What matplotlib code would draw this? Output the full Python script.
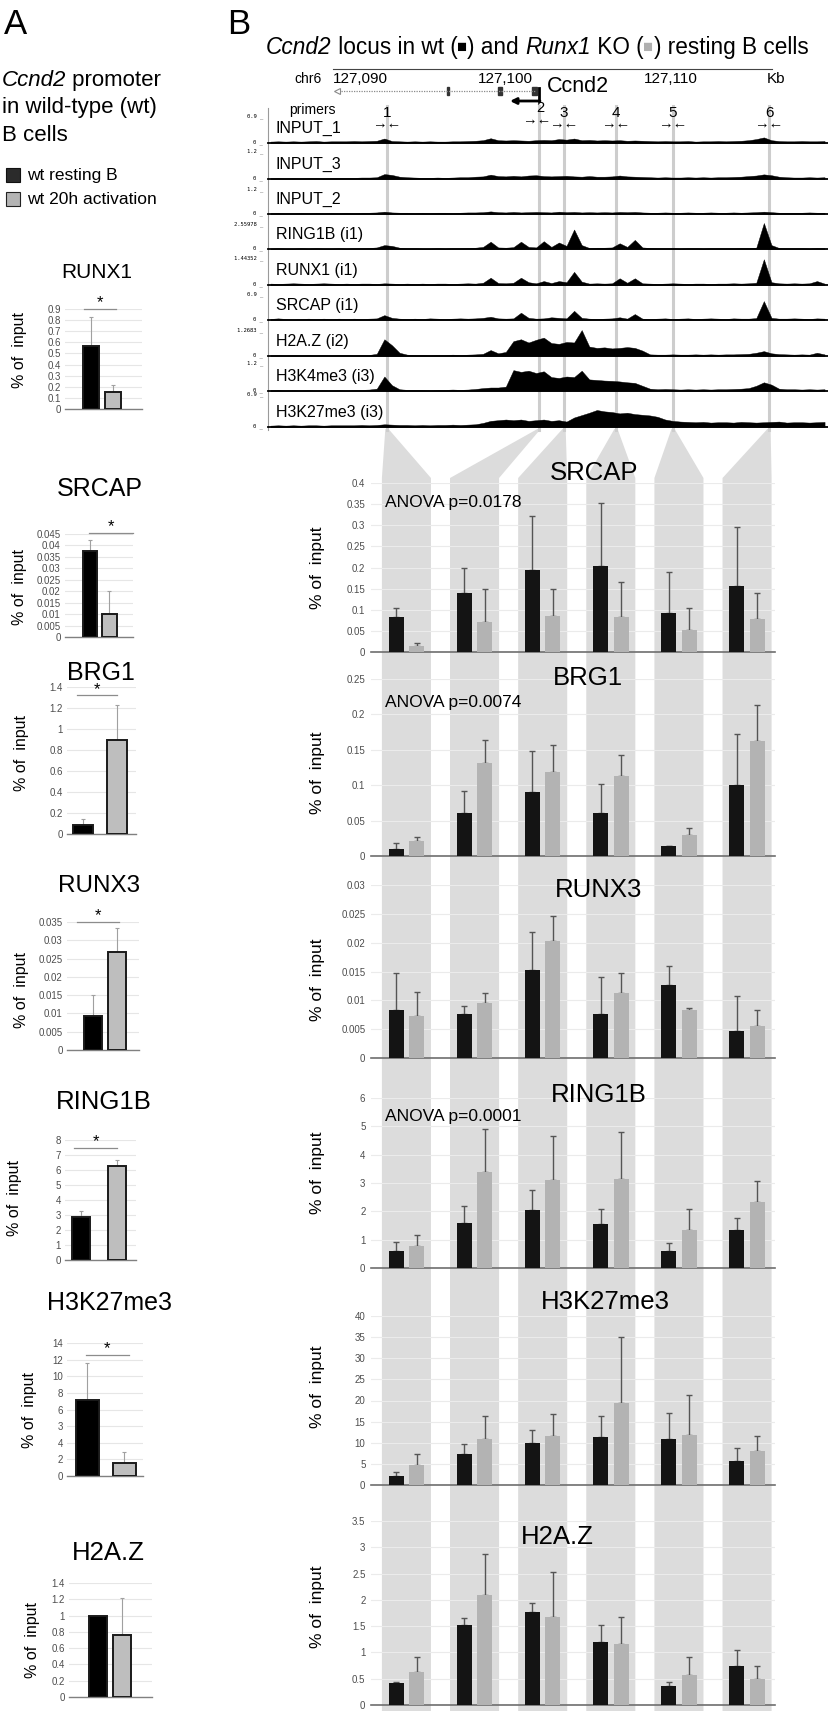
import numpy as np
import matplotlib
matplotlib.use('Agg')
import matplotlib.pyplot as plt
from matplotlib.patches import Rectangle, Polygon

plt.rcParams['font.family'] = ['Liberation Sans', 'DejaVu Sans']

W, H = 829, 1711

# ---------------- panel A data (wt resting vs wt 20h activation) ----------------
a_targets = ['RUNX1', 'SRCAP', 'BRG1', 'RUNX3', 'RING1B', 'H3K27me3', 'H2A.Z']
a_resting = [0.565, 0.0375, 0.09, 0.0092, 2.9, 9.1, 1.0]
a_resting_top = [0.83, 0.0425, 0.14, 0.015, 3.3, 13.55, 1.0]
a_act = [0.155, 0.010, 0.90, 0.0267, 6.25, 1.6, 0.76]
a_act_top = [0.22, 0.020, 1.23, 0.0333, 6.7, 2.94, 1.22]
a_sig = [0.9, 0.0455, 1.32, 0.035, 7.5, 14.6, None]
a_ymax = [0.9, 0.045, 1.4, 0.035, 8, 16, 1.4]
a_ystep = [0.1, 0.005, 0.2, 0.005, 1, 2, 0.2]
h3k27_a_ticklabels = ['0', '2', '4', '3', '6', '8', '10', '12', '14']

# ---------------- panel B data (wt vs Runx1 KO, primers 1-6) ----------------
primers = ['1', '2', '3', '4', '5', '6']
b_targets = ['SRCAP', 'BRG1', 'RUNX3', 'RING1B', 'H3K27me3', 'H2A.Z']
srcap_wt = [0.082, 0.139, 0.193, 0.204, 0.092, 0.156]
srcap_wt_top = [0.103, 0.198, 0.323, 0.352, 0.189, 0.296]
srcap_ko = [0.0135, 0.071, 0.086, 0.082, 0.052, 0.079]
srcap_ko_top = [0.021, 0.149, 0.149, 0.165, 0.103, 0.140]
brg1_wt = [0.0098, 0.061, 0.090, 0.061, 0.014, 0.100]
brg1_wt_top = [0.0187, 0.0925, 0.148, 0.102, 0.0145, 0.172]
brg1_ko = [0.021, 0.131, 0.118, 0.1135, 0.0296, 0.163]
brg1_ko_top = [0.027, 0.164, 0.157, 0.142, 0.040, 0.213]
runx3_wt = [0.0084, 0.0076, 0.0153, 0.0076, 0.0126, 0.0047]
runx3_wt_top = [0.0148, 0.0090, 0.0218, 0.0141, 0.0159, 0.0108]
runx3_ko = [0.0072, 0.0096, 0.0203, 0.0112, 0.0083, 0.0056]
runx3_ko_top = [0.0114, 0.0112, 0.0247, 0.0148, 0.0087, 0.0083]
ring1b_wt = [0.59, 1.59, 2.06, 1.56, 0.59, 1.33]
ring1b_wt_top = [0.91, 2.18, 2.74, 2.08, 0.88, 1.76]
ring1b_ko = [0.79, 3.38, 3.09, 3.15, 1.33, 2.32]
ring1b_ko_top = [1.16, 4.90, 4.65, 4.80, 2.08, 3.08]
h3k27_wt = [2.2, 7.3, 9.9, 11.4, 11.0, 5.6]
h3k27_wt_top = [3.1, 9.8, 13.1, 16.4, 17.0, 8.7]
h3k27_ko = [4.7, 11.0, 11.6, 19.4, 11.9, 8.0]
h3k27_ko_top = [7.3, 16.4, 16.7, 35.0, 21.2, 11.6]
h2az_wt = [0.41, 1.53, 1.77, 1.19, 0.36, 0.75]
h2az_wt_top = [0.43, 1.66, 1.94, 1.53, 0.44, 1.04]
h2az_ko = [0.63, 2.09, 1.68, 1.16, 0.58, 0.49]
h2az_ko_top = [0.92, 2.87, 2.53, 1.67, 0.92, 0.74]
b_ymax = [0.4, 0.25, 0.03, 6, 40, 3.5]
b_ystep = [0.05, 0.05, 0.005, 1, 5, 0.5]
anova = ['ANOVA p=0.0178', 'ANOVA p=0.0074', None, 'ANOVA p=0.0001', None, None]

# ---------------- genome browser tracks (0.5 kb bins, fraction of track scale) ----------------
track_names = ['INPUT_1', 'INPUT_3', 'INPUT_2', 'RING1B (i1)', 'RUNX1 (i1)', 'SRCAP (i1)',
               'H2A.Z (i2)', 'H3K4me3 (i3)', 'H3K27me3 (i3)']
track_scale = ['0.9', '1.2', '1.2', '2.55978', '1.44352', '0.9', '1.2683', '1.2', '0.9']
kb = 84.0 + 0.5 * np.arange(74)
input_1 = [.05,.06,.05,.06,.05,.06,.07,.05,.06,.06, .06,.07,.06,.07,.08,.16,.07,.06,.05,.06,
           .05,.06,.05,.05,.06,.06,.07,.08,.10,.17, .10,.09,.10,.09,.08,.10,.11,.10,.14,.12,
           .16,.10,.11,.09,.10,.09,.10,.08,.09,.08, .07,.06,.07,.06,.06,.07,.05,.06,.06,.07,
           .06,.07,.08,.10,.14,.20,.10,.07,.06,.06, .07,.06,.06,.07]
input_3 = [.03,.04,.03,.04,.03,.04,.04,.03,.04,.04, .04,.04,.05,.05,.06,.17,.14,.08,.06,.05,
           .04,.04,.05,.04,.05,.06,.06,.08,.09,.15, .10,.09,.11,.09,.12,.13,.10,.09,.10,.11,
           .09,.08,.10,.08,.08,.09,.12,.09,.08,.07, .06,.05,.06,.05,.05,.06,.05,.06,.05,.06,
           .06,.07,.08,.10,.12,.16,.13,.08,.06,.05, .05,.06,.05,.06]
input_2 = [.04,.05,.04,.04,.05,.04,.05,.04,.05,.04, .05,.04,.05,.05,.06,.09,.06,.05,.05,.04,
           .05,.04,.05,.05,.04,.05,.06,.06,.07,.10, .07,.06,.08,.06,.07,.08,.07,.06,.09,.07,
           .08,.06,.07,.06,.07,.06,.08,.07,.08,.06, .05,.05,.06,.05,.05,.06,.05,.05,.06,.05,
           .05,.06,.05,.06,.07,.09,.07,.05,.05,.05, .05,.06,.05,.05]
ring1b_chip = [.02,.03,.02,.02,.03,.02,.03,.02,.02,.03, .02,.03,.03,.04,.06,.15,.12,.05,.03,.03,
               .02,.02,.03,.02,.03,.03,.04,.05,.08,.28, .06,.05,.07,.28,.08,.06,.30,.08,.25,.12,
               .75,.15,.04,.05,.05,.06,.22,.08,.35,.06, .04,.03,.03,.03,.02,.03,.03,.02,.03,.03,
               .03,.03,.04,.04,.05,1.0,.15,.04,.03,.03, .03,.02,.04,.03]
runx1_chip = [.05,.04,.05,.06,.05,.04,.05,.06,.05,.04, .05,.04,.05,.05,.04,.06,.05,.04,.05,.04,
              .05,.04,.05,.05,.04,.05,.06,.05,.08,.26, .07,.06,.08,.26,.10,.06,.14,.07,.14,.10,
              .47,.12,.05,.06,.05,.06,.24,.08,.24,.06, .05,.04,.05,.06,.05,.04,.05,.05,.04,.05,
              .05,.06,.05,.06,.08,.92,.10,.06,.05,.06, .05,.06,.14,.05]
srcap_chip = [.04,.06,.04,.03,.04,.05,.04,.05,.04,.05, .04,.05,.04,.05,.06,.18,.08,.05,.04,.05,
              .04,.06,.05,.04,.05,.06,.05,.06,.08,.12, .06,.05,.06,.27,.08,.05,.06,.10,.08,.06,
              .34,.08,.05,.04,.05,.06,.10,.05,.22,.05, .04,.05,.06,.04,.05,.06,.04,.05,.06,.05,
              .04,.06,.05,.05,.07,.70,.08,.05,.05,.06, .05,.04,.06,.05]
h2az_chip = [.03,.04,.03,.04,.03,.04,.03,.04,.03,.04, .04,.03,.04,.04,.08,.62,.40,.12,.05,.04,
             .04,.03,.04,.04,.05,.04,.05,.06,.08,.22, .10,.15,.55,.62,.50,.60,.68,.48,.45,.52,
             .50,.96,.35,.30,.32,.28,.30,.33,.30,.20, .06,.05,.05,.06,.05,.05,.06,.05,.06,.05,
             .06,.06,.07,.08,.12,.18,.10,.07,.06,.05, .06,.05,.12,.06]
h3k4me3_chip = [.03,.04,.03,.04,.03,.04,.03,.04,.03,.04, .03,.04,.04,.05,.08,.50,.20,.06,.04,.04,
                .04,.03,.04,.04,.05,.04,.05,.07,.10,.12, .12,.15,.72,.66,.70,.62,.68,.48,.45,.50,
                .48,.70,.40,.38,.36,.35,.33,.30,.28,.18, .08,.06,.07,.06,.05,.06,.05,.06,.05,.06,
                .06,.07,.08,.10,.18,.30,.22,.08,.06,.06, .05,.06,.05,.06]
h3k27me3_chip = [.04,.05,.04,.05,.04,.05,.05,.04,.05,.05, .05,.05,.06,.05,.06,.08,.07,.06,.06,.05,
                 .06,.05,.06,.06,.07,.06,.07,.08,.12,.18, .20,.22,.20,.22,.18,.20,.22,.18,.20,.16,
                 .28,.35,.42,.50,.46,.44,.40,.42,.38,.36, .34,.30,.22,.18,.16,.15,.14,.15,.13,.14,
                 .14,.13,.15,.14,.13,.14,.15,.16,.13,.14, .14,.13,.14,.15]
tracks = [input_1, input_3, input_2, ring1b_chip, runx1_chip, srcap_chip, h2az_chip, h3k4me3_chip, h3k27me3_chip]
primer_kb = [91.67, 101.69, 103.34, 106.76, 110.52, 116.84]

# ---------------- figure ----------------
fig = plt.figure(figsize=(W / 100, H / 100), dpi=100)
bg = fig.add_axes([0, 0, 1, 1], zorder=0)
fg = fig.add_axes([0, 0, 1, 1], zorder=5)
for a in (bg, fg):
    a.set_xlim(0, W)
    a.set_ylim(H, 0)
    a.axis('off')
fg.patch.set_alpha(0)


def box(x0, y0, x1, y1):
    return [x0 / W, 1 - y1 / H, (x1 - x0) / W, (y1 - y0) / H]


def rainbow(x, y, pieces, size):
    # pieces after the first carry their own size; chained by bbox centre
    t = fg.text(x, y, pieces[0][0], color=pieces[0][1], style=pieces[0][2],
                fontsize=size, ha='left', va='center')
    for s, c, st, sz in pieces[1:]:
        t = fg.annotate(s, xy=(1, 0.5), xycoords=t, va='center', ha='left',
                        color=c, style=st, fontsize=sz)


# ===== panel A =====
fg.text(16, 24, 'A', fontsize=25, ha='center', va='center')
rainbow(2, 80, [('Ccnd2', 'black', 'italic'), (' promoter', 'black', 'normal', 16)], 16)
fg.text(2, 107, 'in wild-type (wt)', fontsize=16, ha='left', va='center')
fg.text(2, 135, 'B cells', fontsize=16, ha='left', va='center')
bg.add_patch(Rectangle((6, 168), 14, 14, facecolor='#2b2b2b', edgecolor='#111111', lw=0.8))
bg.add_patch(Rectangle((6, 192), 14, 14, facecolor='#b4b4b4', edgecolor='#222222', lw=0.8))
fg.text(27, 175, 'wt resting B', fontsize=12.5, ha='left', va='center')
fg.text(27, 199, 'wt 20h activation', fontsize=12.5, ha='left', va='center')

a_box = [(65, 309, 142, 409), (65, 534, 133, 637), (67, 687, 136, 834), (67, 922, 139, 1050),
         (65, 1140, 136, 1260), (67, 1343, 143, 1476), (69, 1583, 152, 1697)]
a_barpx = [(91.5, 113), (90, 109.5), (83, 117), (93, 117), (81, 117), (87.5, 124.5), (98, 122)]
a_barw = [16, 14.5, 20, 18, 18, 23, 18]
a_title_xy = [(97, 272), (100, 489), (101, 673), (99, 886), (104, 1102), (110, 1303), (108, 1553)]
a_title_size = [15, 18, 18, 17.5, 18.5, 18, 18.5]
a_ylab_xy = [(20, 350), (20, 587), (22, 753), (22, 990), (15, 1198), (30, 1410), (33, 1640)]
a_sig_span = [(-0.35, 1.14), (-0.05, 2.2), (-0.18, 1.0), (-0.67, 1.08), (-0.19, 1.0), (-0.04, 1.12), None]

for k, name in enumerate(a_targets):
    x0, y0, x1, y1 = a_box[k]
    ax = fig.add_axes(box(x0, y0, x1, y1), zorder=2)
    ax.patch.set_alpha(0)
    bc, gc = a_barpx[k]
    u = gc - bc
    ax.set_xlim(-(bc - x0) / u, 1 + (x1 - gc) / u)
    ax.set_ylim(0, a_ymax[k])
    ticks = np.round(np.arange(0, a_ymax[k] + a_ystep[k] / 2, a_ystep[k]), 6)
    ax.set_yticks(ticks)
    if name == 'H3K27me3':
        ax.set_yticklabels(h3k27_a_ticklabels)
    else:
        ax.set_yticklabels([f'{t:g}' for t in ticks])
    ax.tick_params(axis='y', length=0, labelsize=7, colors='#4d4d4d', pad=3)
    ax.set_xticks([])
    ax.grid(axis='y', color='#e6e6e6', lw=0.8)
    ax.set_axisbelow(True)
    for s in ['top', 'right', 'left']:
        ax.spines[s].set_visible(False)
    ax.spines['bottom'].set_color('#808080')
    ax.spines['bottom'].set_linewidth(1.0)
    w = a_barw[k] / u
    ax.bar([0, 1], [a_resting[k], a_act[k]], width=w, color=['black', '#bebebe'],
           edgecolor='#1a1a1a', linewidth=1.4, zorder=3)
    for xi, v, top in [(0, a_resting[k], a_resting_top[k]), (1, a_act[k], a_act_top[k])]:
        if top > v:
            ax.errorbar(xi, v, yerr=[[0], [top - v]], fmt='none', ecolor='#a0a0a0',
                        elinewidth=0.8, capsize=1.5, capthick=0.8, zorder=2)
    if a_sig[k] is not None:
        sx = a_sig_span[k]
        ax.plot(sx, [a_sig[k], a_sig[k]], color='#8c8c8c', lw=0.9, clip_on=False)
        ax.annotate('*', xy=(np.mean(sx), a_sig[k]), xytext=(0, -1), textcoords='offset points',
                    ha='center', va='bottom', fontsize=12, annotation_clip=False)
    fg.text(*a_title_xy[k], name, fontsize=a_title_size[k], ha='center', va='center')
    fg.text(*a_ylab_xy[k], '% of  input', fontsize=11.5, rotation=90, ha='center', va='center')

# ===== panel B header =====
fg.text(239, 24, 'B', fontsize=25, ha='center', va='center')
rainbow(266, 47, [('Ccnd2', 'black', 'italic'), (' locus in wt (', 'black', 'normal', 16.3),
                  ('■', 'black', 'normal', 12), (') and ', 'black', 'normal', 16.3),
                  ('Runx1', 'black', 'italic', 16.3), (' KO (', 'black', 'normal', 16.3),
                  ('■', '#b0b0b0', 'normal', 12), (') resting B cells', 'black', 'normal', 16.3)], 16.3)

trk_x0, trk_x1 = 268, 829
kb_lo, kb_hi = 84 - 2.5 / 15.18, 84 + (trk_x1 - 270.5) / 15.18


def kb2px(v):
    return trk_x0 + (v - kb_lo) / (kb_hi - kb_lo) * (trk_x1 - trk_x0)


bg.plot([333, 772], [69, 69], color='#444444', lw=0.8)
fg.text(308, 79, 'chr6', fontsize=10, ha='center', va='center')
for lab, xl in [('127,090', 333), ('127,100', 478), ('127,110', 644), ('Kb', 767)]:
    fg.text(xl, 79, lab, fontsize=11, ha='left', va='center')
bg.plot([336, 536], [91, 91], color='#8a8a8a', lw=0.9, ls=(0, (1, 1)))
bg.plot(337, 91, marker='<', ms=4, mfc='white', mec='#8a8a8a', mew=0.8)
for ex0, exw in [(447, 2.5), (498, 4), (532.5, 5)]:
    bg.add_patch(Rectangle((ex0, 87), exw, 8, color='#333333'))
bg.plot([539, 539], [88, 101], color='black', lw=2)
bg.annotate('', xy=(510, 101), xytext=(540, 101),
            arrowprops=dict(arrowstyle='-|>', color='black', lw=2, mutation_scale=9, shrinkA=0, shrinkB=0))
fg.text(547, 86, 'Ccnd2', fontsize=15.5, ha='left', va='center')
fg.text(312, 110, 'primers', fontsize=10, ha='center', va='center')

tops = [115, 150, 188, 223, 257, 293, 329, 362, 393]
bases = [143, 179, 214, 249, 285, 320, 356, 391, 427]
col_gray = '#dcdcdc'

# primer guide lines behind the tracks
for i, p in enumerate(primer_kb):
    px = kb2px(p)
    bg.plot([px, px], [106, 430], color='#cdcdcd', lw=2.2, zorder=1)
    ny = 108 if i == 1 else 113
    ay = 120 if i == 1 else 124
    axx = px - 2 if i == 1 else px
    fg.text(px + (1 if i == 1 else 0), ny, primers[i], fontsize=10.5 if i == 1 else 11,
            ha='center', va='center')
    fg.text(axx, ay, '→←', fontsize=10.5, ha='center', va='center')
bg.plot([trk_x0, trk_x0], [108, 430], color='#9a9a9a', lw=0.8)

for k in range(9):
    ax = fig.add_axes(box(trk_x0, tops[k], trk_x1, bases[k]), zorder=2)
    ax.patch.set_alpha(0)
    ax.set_xlim(kb_lo, kb_hi)
    ax.set_ylim(0, 1)
    ax.axis('off')
    ax.fill_between(kb, 0, tracks[k], color='black', lw=0.3, edgecolor='black')
    ax.axhline(0, color='black', lw=1.3, clip_on=False)
    fg.text(276, bases[k] - 15, track_names[k], fontsize=11.5, ha='left', va='center')
    fg.text(263, tops[k] + 1, track_scale[k] + ' _', fontsize=4, family='DejaVu Sans Mono',
            ha='right', va='center')
    fg.text(263, bases[k] - 1, '0 _', fontsize=4, family='DejaVu Sans Mono', ha='right', va='center')

# ===== panel B bar charts =====
bx0, bx1 = 371, 775
b_xlim = (-0.52, 5.41)
b_box_y = [(483, 652), (679, 856), (885, 1058), (1098, 1268), (1316, 1485), (1521, 1705)]
b_title_xy = [(594, 473), (588, 678), (599, 890), (599, 1095), (605, 1302), (557, 1537)]
b_anova_y = [502, 702, None, 1117, None, None]
b_ylab_y = [568, 773, 980, 1173, 1387, 1607]
b_wt = [srcap_wt, brg1_wt, runx3_wt, ring1b_wt, h3k27_wt, h2az_wt]
b_wt_top = [srcap_wt_top, brg1_wt_top, runx3_wt_top, ring1b_wt_top, h3k27_wt_top, h2az_wt_top]
b_ko = [srcap_ko, brg1_ko, runx3_ko, ring1b_ko, h3k27_ko, h2az_ko]
b_ko_top = [srcap_ko_top, brg1_ko_top, runx3_ko_top, ring1b_ko_top, h3k27_ko_top, h2az_ko_top]


def bx2px(v):
    return bx0 + (v - b_xlim[0]) / (b_xlim[1] - b_xlim[0]) * (bx1 - bx0)


# gray columns + funnels from primer lines
for i, p in enumerate(primer_kb):
    px = kb2px(p)
    cl, cr = bx2px(i - 0.36), bx2px(i + 0.36)
    bg.add_patch(Polygon([(px - 1.6, 429), (px + 1.6, 429), (cr, 478), (cr, H), (cl, H), (cl, 478)],
                         closed=True, facecolor=col_gray, edgecolor='none', zorder=0.5))

x = np.arange(len(primers))
for k, name in enumerate(b_targets):
    y0, y1 = b_box_y[k]
    ax = fig.add_axes(box(bx0, y0, bx1, y1), zorder=2)
    ax.patch.set_alpha(0)
    ax.set_xlim(*b_xlim)
    ax.set_ylim(0, b_ymax[k])
    ticks = np.round(np.arange(0, b_ymax[k] + b_ystep[k] / 2, b_ystep[k]), 6)
    ax.set_yticks(ticks)
    ax.set_yticklabels([f'{t:g}' for t in ticks])
    ax.tick_params(axis='y', length=0, labelsize=7, colors='#4d4d4d', pad=4)
    ax.set_xticks([])
    ax.grid(axis='y', color='#ebebeb', lw=0.8)
    ax.set_axisbelow(True)
    for s in ['top', 'right', 'left']:
        ax.spines[s].set_visible(False)
    ax.spines['bottom'].set_color('#6e6e6e')
    ax.spines['bottom'].set_linewidth(1.2)
    ax.bar(x - 0.15, b_wt[k], width=0.22, color='#141414', zorder=3)
    ax.bar(x + 0.15, b_ko[k], width=0.22, color='#b3b3b3', zorder=3)
    for xs, vals, topv in [(x - 0.15, b_wt[k], b_wt_top[k]), (x + 0.15, b_ko[k], b_ko_top[k])]:
        up = np.array(topv) - np.array(vals)
        ax.errorbar(xs, vals, yerr=[np.zeros(len(vals)), up], fmt='none', ecolor='#555555',
                    elinewidth=1, capsize=2, capthick=1, zorder=2)
    fg.text(*b_title_xy[k], name, fontsize=18.5, ha='center', va='center')
    if anova[k]:
        fg.text(385, b_anova_y[k], anova[k], fontsize=12.5, ha='left', va='center')
    fg.text(318, b_ylab_y[k], '% of  input', fontsize=12.5, rotation=90, ha='center', va='center')

fig.savefig('out.png', dpi=100)
